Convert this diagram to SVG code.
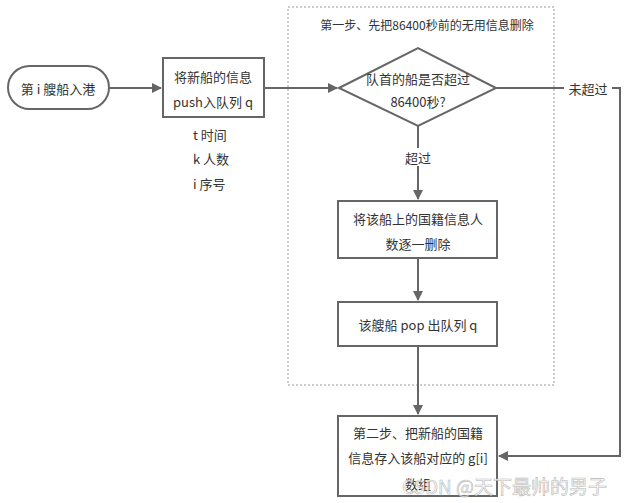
<svg xmlns="http://www.w3.org/2000/svg" width="628" height="503" viewBox="0 0 628 503">
<defs>
<style>
.t{font-family:"Noto Sans CJK SC","Liberation Sans",sans-serif;font-size:13px;fill:#333;text-anchor:middle;dominant-baseline:central}
.n{fill:#fff;stroke:#666;stroke-width:2}
.c{fill:none;stroke:#666;stroke-width:2}
</style>
<marker id="a" viewBox="0 0 10 10" refX="9" refY="5" markerWidth="5" markerHeight="5" orient="auto"><path d="M0,0 L10,5 L0,10 z" fill="#666"/></marker>
</defs>
<rect width="628" height="503" fill="#fff"/>
<g id="group1">
<rect x="288" y="7" width="266" height="378" fill="none" stroke="#999" stroke-width="1" stroke-dasharray="2,2"/>
<text class="t" x="427" y="24" style="font-size:12px">第一步、先把86400秒前的无用信息删除</text>
</g>
<g id="connectors">
<line class="c" x1="109" y1="88" x2="161" y2="88" marker-end="url(#a)"/>
<line class="c" x1="264" y1="88" x2="337" y2="88" marker-end="url(#a)"/>
<path class="c" d="M496,88 H620 V456 H499" marker-end="url(#a)"/>
<line class="c" x1="418" y1="126" x2="418" y2="199" marker-end="url(#a)"/>
<line class="c" x1="418" y1="258" x2="418" y2="300" marker-end="url(#a)"/>
<line class="c" x1="418" y1="346" x2="418" y2="414" marker-end="url(#a)"/>
<rect x="564" y="79" width="48" height="18" fill="#fff"/>
<text class="t" x="588" y="88">未超过</text>
<rect x="400" y="148" width="36" height="18" fill="#fff"/>
<text class="t" x="418" y="157">超过</text>
</g>
<g id="start">
<rect class="n" x="8" y="66" width="101" height="43" rx="21.5"/>
<text class="t" x="58" y="88">第 i 艘船入港</text>
</g>
<g id="push">
<rect class="n" x="163" y="58" width="101" height="59"/>
<text class="t" x="213" y="76">将新船的信息</text>
<text class="t" x="213" y="101">push入队列 q</text>
</g>
<g id="notes">
<text class="t" x="193" y="134" style="text-anchor:start">t 时间</text>
<text class="t" x="193" y="158" style="text-anchor:start">k 人数</text>
<text class="t" x="193" y="183" style="text-anchor:start">i 序号</text>
</g>
<g id="decision">
<polygon class="n" points="339,88 418,48 496,88 418,126"/>
<text class="t" x="418" y="78">队首的船是否超过</text>
<text class="t" x="418" y="101">86400秒?</text>
</g>
<g id="delete">
<rect class="n" x="338" y="201" width="159" height="57"/>
<text class="t" x="418" y="218">将该船上的国籍信息人</text>
<text class="t" x="418" y="243">数逐一删除</text>
</g>
<g id="pop">
<rect class="n" x="338" y="302" width="159" height="44"/>
<text class="t" x="418" y="324">该艘船 pop 出队列 q</text>
</g>
<g id="store">
<rect class="n" x="338" y="416" width="159" height="80"/>
<text class="t" x="418" y="432">第二步、把新船的国籍</text>
<text class="t" x="418" y="457">信息存入该船对应的 g[i]</text>
<text class="t" x="418" y="483">数组</text>
</g>
<text x="402" y="485" style="font-family:'Noto Sans CJK SC','Liberation Sans',sans-serif;font-size:19px;fill:#fff;stroke:#aaa;stroke-width:0.6;opacity:0.85;dominant-baseline:central">CSDN @天下最帅的男子</text>
</svg>
